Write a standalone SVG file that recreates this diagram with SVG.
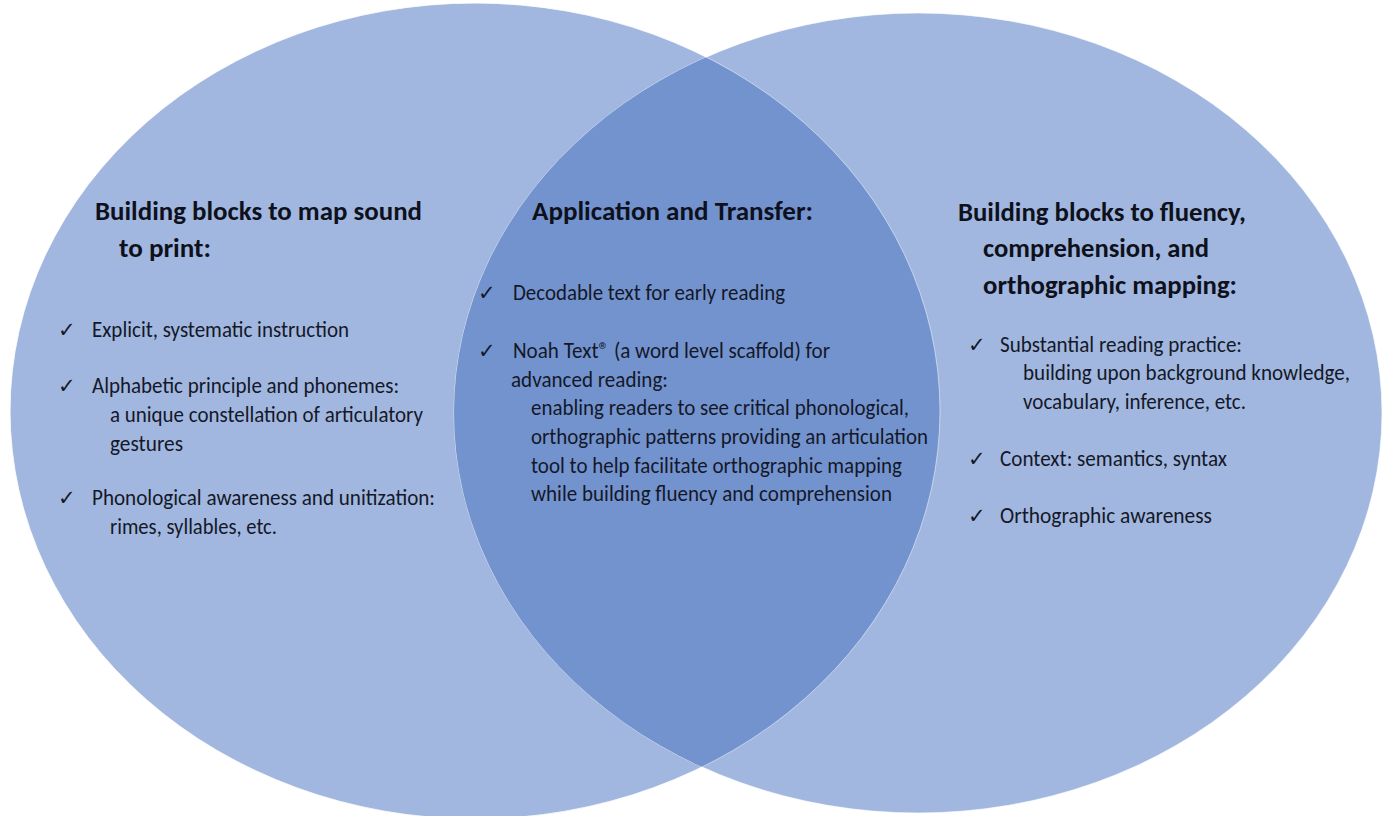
<svg xmlns="http://www.w3.org/2000/svg" width="1383" height="816" viewBox="0 0 1383 816">
<style>
.t{font-family:Carlito,Lato,"Liberation Sans",sans-serif;font-size:23px;fill:#141828}
.h{font-family:Carlito,Lato,"Liberation Sans",sans-serif;font-size:26px;font-weight:bold;fill:#0e111c}
.c{font-family:"DejaVu Sans",sans-serif;font-size:21px;fill:#141828}
</style>
<defs>
<clipPath id="clipL"><ellipse cx="475" cy="411" rx="465" ry="408"/></clipPath>
</defs>
<rect width="1383" height="816" fill="#ffffff"/>
<g id="left-circle">
<ellipse cx="475" cy="411" rx="465" ry="408" fill="#a1b7df" stroke="#ffffff" stroke-opacity="0.6" stroke-width="1"/>
</g>
<g id="right-circle">
<ellipse cx="918" cy="413" rx="464" ry="400" fill="#a1b7df" stroke="#ffffff" stroke-opacity="0.6" stroke-width="1"/>
</g>
<g id="overlap">
<ellipse cx="918" cy="413" rx="464" ry="400" fill="#7393cf" clip-path="url(#clipL)"/>
<ellipse cx="475" cy="411" rx="465" ry="408" fill="none" stroke="#ffffff" stroke-opacity="0.5" stroke-width="1"/>
</g>
<g id="connectors"></g>
<g id="left-text">
<text class="h" x="95" y="220" textLength="327" lengthAdjust="spacingAndGlyphs">Building blocks to map sound</text>
<text class="h" x="119" y="257" textLength="92" lengthAdjust="spacingAndGlyphs">to print:</text>
<text class="c" x="58" y="337">✓</text>
<text class="t" x="92" y="337" textLength="257" lengthAdjust="spacingAndGlyphs">Explicit, systematic instruction</text>
<text class="c" x="58" y="393">✓</text>
<text class="t" x="92" y="393" textLength="307" lengthAdjust="spacingAndGlyphs">Alphabetic principle and phonemes:</text>
<text class="t" x="110" y="422" textLength="313" lengthAdjust="spacingAndGlyphs">a unique constellation of articulatory</text>
<text class="t" x="110" y="451" textLength="73" lengthAdjust="spacingAndGlyphs">gestures</text>
<text class="c" x="58" y="505">✓</text>
<text class="t" x="92" y="505" textLength="343" lengthAdjust="spacingAndGlyphs">Phonological awareness and unitization:</text>
<text class="t" x="110" y="534" textLength="167" lengthAdjust="spacingAndGlyphs">rimes, syllables, etc.</text>
</g>
<g id="middle-text">
<text class="h" x="532" y="220" textLength="281" lengthAdjust="spacingAndGlyphs">Application and Transfer:</text>
<text class="c" x="478" y="300">✓</text>
<text class="t" x="513" y="300" textLength="272" lengthAdjust="spacingAndGlyphs">Decodable text for early reading</text>
<text class="c" x="478" y="358">✓</text>
<text class="t" x="513" y="358" textLength="317" lengthAdjust="spacingAndGlyphs">Noah Text® (a word level scaffold) for</text>
<text class="t" x="511" y="387" textLength="157" lengthAdjust="spacingAndGlyphs">advanced reading:</text>
<text class="t" x="531" y="415" textLength="378" lengthAdjust="spacingAndGlyphs">enabling readers to see critical phonological,</text>
<text class="t" x="531" y="444" textLength="397" lengthAdjust="spacingAndGlyphs">orthographic patterns providing an articulation</text>
<text class="t" x="531" y="473" textLength="371" lengthAdjust="spacingAndGlyphs">tool to help facilitate orthographic mapping</text>
<text class="t" x="531" y="501" textLength="361" lengthAdjust="spacingAndGlyphs">while building fluency and comprehension</text>
</g>
<g id="right-text">
<text class="h" x="958" y="221" textLength="288" lengthAdjust="spacingAndGlyphs">Building blocks to fluency,</text>
<text class="h" x="983" y="257" textLength="226" lengthAdjust="spacingAndGlyphs">comprehension, and</text>
<text class="h" x="983" y="294" textLength="254" lengthAdjust="spacingAndGlyphs">orthographic mapping:</text>
<text class="c" x="968" y="352">✓</text>
<text class="t" x="1000" y="352" textLength="242" lengthAdjust="spacingAndGlyphs">Substantial reading practice:</text>
<text class="t" x="1023" y="380" textLength="327" lengthAdjust="spacingAndGlyphs">building upon background knowledge,</text>
<text class="t" x="1023" y="409" textLength="223" lengthAdjust="spacingAndGlyphs">vocabulary, inference, etc.</text>
<text class="c" x="968" y="466">✓</text>
<text class="t" x="1000" y="466" textLength="227" lengthAdjust="spacingAndGlyphs">Context: semantics, syntax</text>
<text class="c" x="968" y="523">✓</text>
<text class="t" x="1000" y="523" textLength="212" lengthAdjust="spacingAndGlyphs">Orthographic awareness</text>
</g>
</svg>
